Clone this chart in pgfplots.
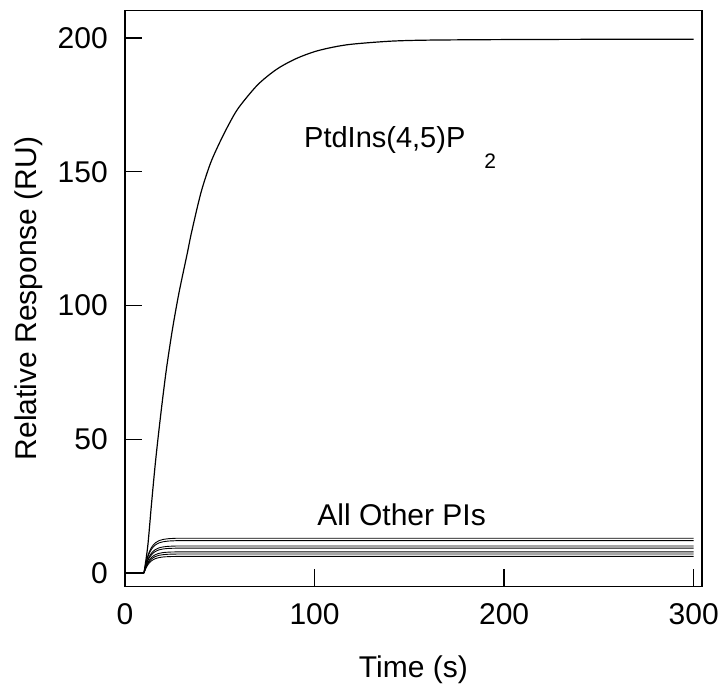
\documentclass[border=0pt]{standalone}
\usepackage{pgfplots}
\pgfplotsset{compat=1.18}
\usepackage{fontspec}
\setmainfont{Liberation Sans}
\begin{document}
\begin{tikzpicture}
\begin{axis}[name=ax, scale only axis, width=576.7pt, height=575.8pt,
 xmin=0, xmax=304.2, ymin=-5.05, ymax=210.2,
 xtick={0,100,200,300}, ytick={0,50,100,150,200},
 tick pos=left, tick align=inside, major tick length=17pt,
 axis line style={line width=1.6pt},
 every tick/.style={line width=1.4pt, black},
 /pgf/number format/assume math mode=true,
 tick label style={font=\fontsize{30}{36}\selectfont, inner sep=0pt},
 yticklabel style={xshift=-17pt},
 xticklabel style={yshift=-17pt},
 label style={font=\fontsize{30}{36}\selectfont},
 xlabel={Time (s)}, ylabel={Relative Response (RU)},
 xlabel style={at={(axis description cs:0.5,-0.1572)}, anchor=base},
 ylabel style={at={(axis description cs:-0.1543,0.5)}, anchor=base},
]
% PtdIns(4,5)P2
\addplot[black, line width=1.2pt] coordinates {(0,0) (10,0)};
\addplot[black, line width=1.2pt, smooth, tension=0.5] coordinates {
(10,0) (12,10) (14,26) (16,41) (18,54) (20,66) (22,77) (25,91) (28,103) (30,110)
(33,120) (35,127) (40,142) (45,153) (50,161) (55,168) (60,174) (70,182.5) (80,188.3)
(90,192.2) (100,194.9) (110,196.6) (120,197.7) (140,198.8) (160,199.2) (200,199.4)
(250,199.5) (300,199.5)};
% All other PIs
\addplot[black, line width=0.9pt, smooth, tension=0.5] coordinates {
(10,0) (11,3.68) (12,6.33) (13,8.22) (14,9.57) (15,10.54) (16,11.25) (18,12.10) (20,12.53) (23,12.83) (26,12.94) (30,12.99) (60,13.0) (300,13.0)};
\addplot[black, line width=0.9pt, smooth, tension=0.5] coordinates {
(10,0) (11,3.42) (12,5.89) (13,7.65) (14,8.91) (15,9.81) (16,10.47) (18,11.27) (20,11.66) (23,11.94) (26,12.04) (30,12.09) (60,12.1) (300,12.1)};
\addplot[black, line width=0.9pt, smooth, tension=0.5] coordinates {
(10,0) (11,2.86) (12,4.92) (13,6.38) (14,7.43) (15,8.19) (16,8.74) (18,9.40) (20,9.74) (23,9.97) (26,10.05) (30,10.09) (60,10.1) (300,10.1)};
\addplot[black, line width=0.9pt, smooth, tension=0.5] coordinates {
(10,0) (11,2.63) (12,4.53) (13,5.88) (14,6.84) (15,7.54) (16,8.04) (18,8.66) (20,8.97) (23,9.18) (26,9.25) (30,9.29) (60,9.3) (300,9.3)};
\addplot[black, line width=0.9pt, smooth, tension=0.5] coordinates {
(10,0) (11,2.24) (12,3.85) (13,4.99) (14,5.81) (15,6.41) (16,6.83) (18,7.35) (20,7.62) (23,7.80) (26,7.86) (30,7.89) (60,7.9) (300,7.9)};
\addplot[black, line width=0.9pt, smooth, tension=0.5] coordinates {
(10,0) (11,2.01) (12,3.46) (13,4.49) (14,5.23) (15,5.76) (16,6.14) (18,6.61) (20,6.84) (23,7.01) (26,7.06) (30,7.09) (60,7.1) (300,7.1)};
\addplot[black, line width=0.9pt, smooth, tension=0.5] coordinates {
(10,0) (11,1.75) (12,3.02) (13,3.92) (14,4.56) (15,5.03) (16,5.36) (18,5.77) (20,5.98) (23,6.12) (26,6.17) (30,6.19) (60,6.2) (300,6.2)};
\node[anchor=base west, inner sep=0pt, font=\fontsize{29}{34}\selectfont] at (axis cs:94.4,159.1)
 {PtdIns(4,5)P\hspace{19pt}\raisebox{-21pt}{\fontsize{21}{24}\selectfont 2}};
\node[anchor=base west, inner sep=0pt, font=\fontsize{30}{36}\selectfont] at (axis cs:101.4,17.6) {All Other PIs};
\end{axis}
\path ([shift={(-125pt,-106.5pt)}]ax.south west) rectangle ([shift={(21.3pt,10.7pt)}]ax.north east);
\end{tikzpicture}
\end{document}
